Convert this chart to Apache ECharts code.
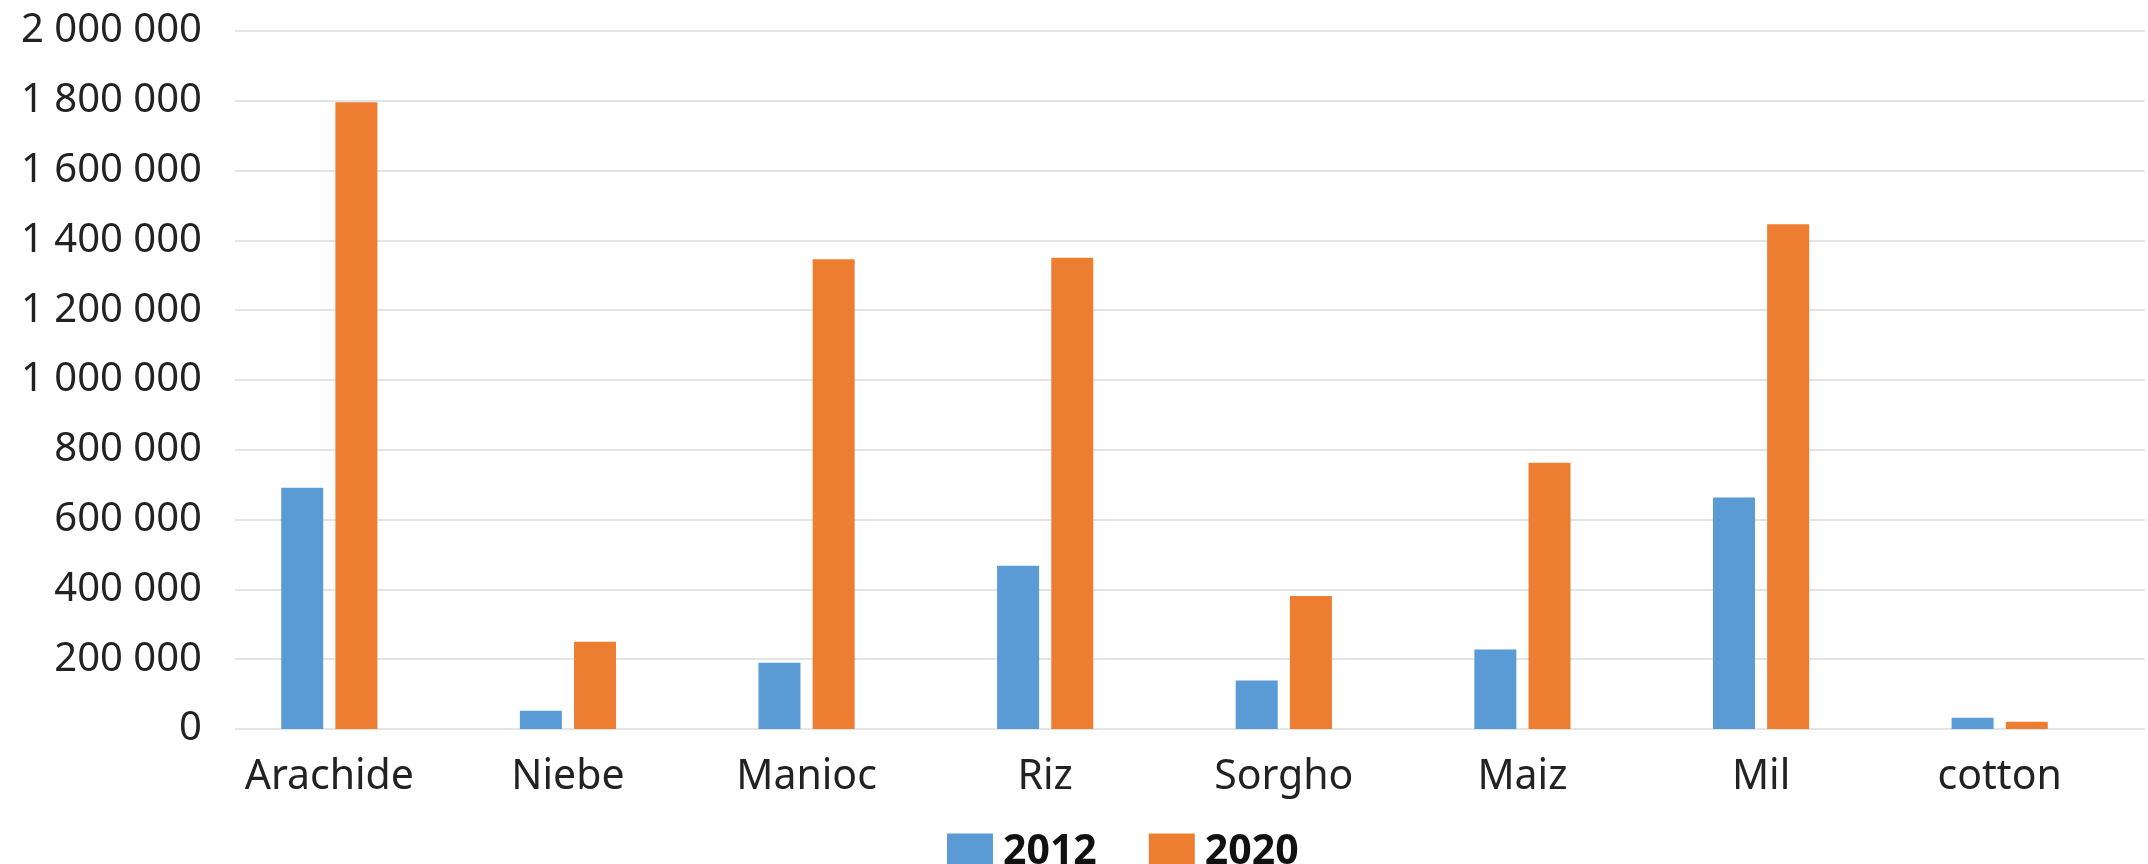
<!DOCTYPE html>
<html>
<head>
<meta charset="utf-8">
<script src="https://cdn.jsdelivr.net/npm/echarts@6/dist/echarts.min.js"></script>
<style>
html,body{margin:0;padding:0;background:#fff;}
#chart{width:2148px;height:864px;}
</style>
</head>
<body>
<div id="chart"></div>
<script>
const categories = ['Arachide', 'Niebe', 'Manioc', 'Riz', 'Sorgho', 'Maiz', 'Mil', 'cotton'];
const values2012 = [691000, 52000, 190000, 468000, 139000, 228000, 663000, 32000];
const values2020 = [1796000, 250000, 1346000, 1350000, 381000, 763000, 1446000, 21000];
const seriesNames = ['2012', '2020'];
const yTicks = { min: 0, max: 2000000, interval: 200000 };

const FONT = 'Noto Sans';
const chart = echarts.init(document.getElementById('chart'));
const fmt = v => String(Math.round(v)).replace(/\B(?=(\d{3})+(?!\d))/g, ' ');

chart.setOption({
  animation: false,
  color: ['#5B9BD5', '#ED7D31'],
  grid: [
    { left: 210, right: 29, top: 31, bottom: 135 },
    { left: 235, right: 3, top: 31, bottom: 135 }
  ],
  legend: {
    data: seriesNames,
    left: 942,
    top: 827,
    itemWidth: 46,
    itemHeight: 38,
    itemGap: 52,
    icon: 'rect',
    textStyle: { fontFamily: FONT, fontSize: 41, fontWeight: 'bold', color: '#111', padding: [0, 0, 0, 5] }
  },
  xAxis: [
    {
      gridIndex: 0,
      type: 'category',
      data: categories,
      axisLine: { show: false },
      axisTick: { show: false },
      axisLabel: { fontFamily: FONT, fontSize: 41, color: '#222', margin: 28 }
    },
    {
      gridIndex: 1,
      type: 'category',
      data: categories,
      show: false
    }
  ],
  yAxis: [
    {
      gridIndex: 0,
      type: 'value',
      min: yTicks.min, max: yTicks.max, interval: yTicks.interval,
      show: false,
      splitLine: { show: false }
    },
    {
      gridIndex: 1,
      type: 'value',
      min: yTicks.min, max: yTicks.max, interval: yTicks.interval,
      axisLine: { show: false },
      axisTick: { show: false },
      axisLabel: { fontFamily: FONT, fontSize: 40, color: '#222', margin: 33, formatter: fmt },
      splitLine: { lineStyle: { color: '#e4e4e4', width: 2 } }
    }
  ],
  series: [
    { name: seriesNames[0], type: 'bar', xAxisIndex: 0, yAxisIndex: 0, data: values2012, barWidth: 42, barGap: '29%' },
    { name: seriesNames[1], type: 'bar', xAxisIndex: 0, yAxisIndex: 0, data: values2020, barWidth: 42, barGap: '29%' }
  ]
});
</script>
</body>
</html>
